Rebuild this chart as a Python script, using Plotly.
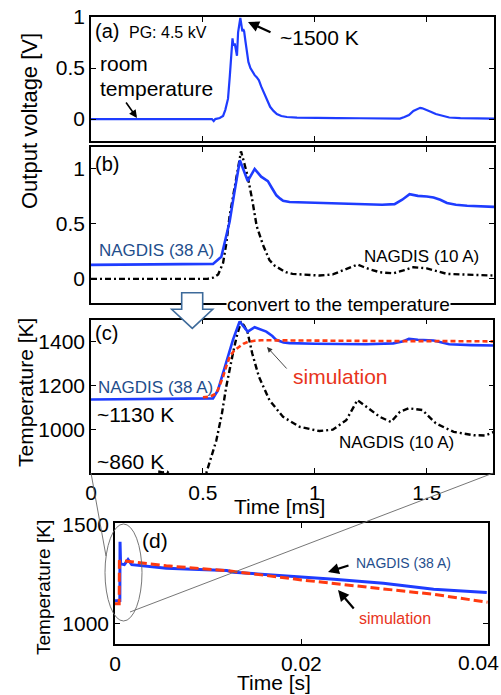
import plotly.graph_objects as go

W, H = 501, 695
FONT = "Liberation Sans, Arial, sans-serif"
BLUE = "#1e3cff"
RED = "#ff3a10"
NAVY = "#1f4e8c"
TXTRED = "#e8341c"

# ---------------- data ----------------
# (a) PG 4.5 kV output voltage
ta = [0, 0.1, 0.2, 0.3, 0.4, 0.5, 0.54, 0.548, 0.555, 0.575, 0.59, 0.60, 0.612, 0.62, 0.627, 0.632,
      0.636, 0.642, 0.647, 0.652, 0.657, 0.662, 0.667, 0.672, 0.676, 0.680, 0.684, 0.690, 0.696, 0.703,
      0.712, 0.722, 0.731, 0.74, 0.75, 0.76, 0.768, 0.78, 0.79, 0.8, 0.815, 0.83, 0.85, 0.875, 0.92, 1.0,
      1.1, 1.2, 1.3, 1.38, 1.40, 1.42, 1.44, 1.46, 1.47, 1.48, 1.5, 1.52, 1.54, 1.57, 1.6, 1.65, 1.7, 1.8]
va = [0, 0, 0, 0, 0, 0, 0, -0.02, 0.0, 0.01, 0.03, 0.09, 0.2, 0.42, 0.65, 0.79,
      0.72, 0.74, 0.68, 0.62, 0.85, 0.95, 0.99, 0.92, 0.86, 0.88, 0.86, 0.76, 0.64, 0.56,
      0.5, 0.46, 0.43, 0.41, 0.38, 0.32, 0.28, 0.21, 0.16, 0.12, 0.08, 0.05, 0.03, 0.02, 0.015, 0.01,
      0.01, 0.008, 0.005, 0.005, 0.02, 0.04, 0.08, 0.105, 0.11, 0.105, 0.09, 0.07, 0.05, 0.03, 0.015, 0.01, 0.008, 0.005]

# (b) NAGDIS 38 A output voltage
tb38 = [0, 0.2, 0.4, 0.545, 0.582, 0.6, 0.619, 0.64, 0.665, 0.70, 0.731, 0.76, 0.79, 0.81, 0.828, 0.845,
        0.858, 0.887, 1.0, 1.1, 1.23, 1.3, 1.356, 1.39, 1.423, 1.46, 1.5, 1.53, 1.56, 1.59, 1.63, 1.68, 1.8]
vb38 = [0.127, 0.13, 0.133, 0.136, 0.20, 0.36, 0.52, 0.78, 1.08, 0.89, 1.0, 0.93, 0.89, 0.82, 0.76, 0.73,
        0.71, 0.70, 0.695, 0.69, 0.68, 0.675, 0.68, 0.72, 0.77, 0.755, 0.75, 0.74, 0.72, 0.69, 0.675, 0.665, 0.655]
# (b) NAGDIS 10 A output voltage
tb10 = [0, 0.2, 0.4, 0.52, 0.545, 0.568, 0.59, 0.605, 0.619, 0.635, 0.649, 0.67, 0.685, 0.70, 0.72, 0.74,
        0.768, 0.797, 0.82, 0.842, 0.87, 0.9, 0.96, 1.02, 1.08, 1.14, 1.19, 1.215, 1.24, 1.29, 1.35, 1.40,
        1.44, 1.5, 1.55, 1.59, 1.65, 1.71, 1.8]
vb10 = [0, 0, 0, 0, 0.01, 0.04, 0.145, 0.33, 0.57, 0.76, 0.93, 1.16, 1.05, 0.93, 0.72, 0.48,
        0.31, 0.17, 0.12, 0.09, 0.06, 0.045, 0.035, 0.03, 0.04, 0.09, 0.13, 0.11, 0.09, 0.06, 0.05, 0.08,
        0.106, 0.095, 0.07, 0.045, 0.04, 0.035, 0.03]

# (c) temperature [K]
tc38 = [0, 0.2, 0.4, 0.545, 0.567, 0.585, 0.604, 0.634, 0.664, 0.70, 0.731, 0.76, 0.783, 0.81, 0.827,
        0.86, 0.887, 1.0, 1.1, 1.23, 1.35, 1.39, 1.42, 1.46, 1.53, 1.57, 1.6, 1.7, 1.8]
Tc38 = [1138, 1140, 1141, 1143, 1180, 1240, 1302, 1408, 1491, 1445, 1465, 1452, 1445, 1425, 1408,
        1396, 1393, 1390, 1389, 1388, 1392, 1400, 1412, 1408, 1405, 1396, 1388, 1384, 1382]
tcsim = [0.5, 0.53, 0.56, 0.575, 0.59, 0.605, 0.62, 0.64, 0.66, 0.68, 0.7, 0.73, 0.76, 0.85, 1.0,
         1.2, 1.4, 1.6, 1.8]
Tcsim = [1148, 1150, 1165, 1200, 1241, 1290, 1332, 1360, 1377, 1390, 1398, 1404, 1406, 1405, 1404,
         1403, 1402, 1402, 1401]
tc10 = [0, 0.1, 0.2, 0.28, 0.30, 0.32, 0.34, 0.36, 0.45, 0.5, 0.516, 0.56, 0.585, 0.604, 0.634, 0.65,
        0.67, 0.685, 0.70, 0.72, 0.75, 0.797, 0.858, 0.932, 1.02, 1.08, 1.14, 1.19, 1.23, 1.29, 1.34,
        1.38, 1.42, 1.48, 1.54, 1.62, 1.71, 1.76, 1.8]
Tc10 = [760, 760, 770, 790, 812, 808, 811, 795, 780, 790, 808, 953, 1075, 1195, 1347, 1420,
        1491, 1470, 1440, 1347, 1241, 1135, 1059, 1014, 995, 1001, 1044, 1135, 1105, 1059, 1036,
        1082, 1098, 1090, 1030, 991, 976, 975, 991]

# (d) long time scale temperature
td38 = [0, 0.0003, 0.00052, 0.00054, 0.0006, 0.0010, 0.0014, 0.0018, 0.003, 0.0055, 0.009, 0.012,
        0.0127, 0.016, 0.0199, 0.0235, 0.0288, 0.0342, 0.0399]
Td38 = [1114, 1114, 1115, 1412, 1300, 1296, 1322, 1296, 1290, 1278, 1272, 1266,
        1258, 1248, 1236, 1222, 1202, 1172, 1155]
tdsim = [0, 0.00045, 0.00047, 0.0008, 0.0015, 0.0055, 0.012, 0.02, 0.0271, 0.0342, 0.04]
Tdsim = [1099, 1099, 1312, 1316, 1312, 1290, 1266, 1219, 1182, 1146, 1106]


# ---------------- helpers ----------------
def px(x):
    return x / W


def py(y):
    return 1 - y / H


fig = go.Figure()

fig.add_trace(go.Scatter(x=ta, y=va, mode="lines", line=dict(color=BLUE, width=2.2),
                         xaxis="x", yaxis="y", showlegend=False))
fig.add_trace(go.Scatter(x=tb10, y=vb10, mode="lines", line=dict(color="black", width=2.4, dash="6px,3px,2px,3px"),
                         xaxis="x2", yaxis="y2", showlegend=False))
fig.add_trace(go.Scatter(x=tb38, y=vb38, mode="lines", line=dict(color=BLUE, width=2.6),
                         xaxis="x2", yaxis="y2", showlegend=False))
fig.add_trace(go.Scatter(x=tc10, y=Tc10, mode="lines", line=dict(color="black", width=2.4, dash="6px,3px,2px,3px"),
                         xaxis="x3", yaxis="y3", showlegend=False))
fig.add_trace(go.Scatter(x=tc38, y=Tc38, mode="lines", line=dict(color=BLUE, width=2.6),
                         xaxis="x3", yaxis="y3", showlegend=False))
fig.add_trace(go.Scatter(x=tcsim, y=Tcsim, mode="lines", line=dict(color=RED, width=2.6, dash="5px,3px"),
                         xaxis="x3", yaxis="y3", showlegend=False))
fig.add_trace(go.Scatter(x=td38, y=Td38, mode="lines", line=dict(color=BLUE, width=3),
                         xaxis="x4", yaxis="y4", showlegend=False))
fig.add_trace(go.Scatter(x=tdsim, y=Tdsim, mode="lines", line=dict(color=RED, width=3, dash="9px,4px"),
                         xaxis="x4", yaxis="y4", showlegend=False))

ax_common = dict(showline=True, linecolor="black", linewidth=1.6, mirror="ticks", ticks="inside",
                 ticklen=5, tickwidth=1, tickcolor="black", showgrid=False, zeroline=False,
                 automargin=False, ticklabeloverflow="allow",
                 tickfont=dict(family=FONT, size=21, color="black"))

# panel boxes (pixels): left, right, top, bottom
A = (91, 494, 17, 141)
B = (91, 494, 147, 303)
C = (91, 493.3, 319.5, 473)
D = (115, 487.7, 523.3, 644)


def dom(box):
    l, r, t, b = box
    return [px(l), px(r)], [py(b), py(t)]


xa, ya = dom(A)
xb, yb = dom(B)
xc, yc = dom(C)
xd, yd = dom(D)

fig.update_layout(
    xaxis=dict(domain=xa, range=[0, 1.8], anchor="y", tickvals=[0, 0.5, 1, 1.5], showticklabels=False, **ax_common),
    yaxis=dict(domain=ya, range=[-0.215, 1.0], anchor="x", tickvals=[0, 0.5, 1], ticktext=["0", "0.5", "1"], **ax_common),
    xaxis2=dict(domain=xb, range=[0, 1.8], anchor="y2", tickvals=[0, 0.5, 1, 1.5], showticklabels=False, **ax_common),
    yaxis2=dict(domain=yb, range=[-0.22, 1.2], anchor="x2", tickvals=[0, 0.5, 1], ticktext=["0", "0.5", "1"], **ax_common),
    xaxis3=dict(domain=xc, range=[0, 1.797], anchor="y3", tickvals=[0, 0.5, 1, 1.5], ticktext=["0", "0.5", "1", "1.5"], **ax_common),
    yaxis3=dict(domain=yc, range=[805, 1500], anchor="x3", tickvals=[1000, 1200, 1400], **ax_common),
    xaxis4=dict(domain=xd, range=[0, 0.04], anchor="y4", tickvals=[0, 0.02, 0.04], ticktext=["0", "0.02", ""], **ax_common),
    yaxis4=dict(domain=yd, range=[895, 1505], anchor="x4", tickvals=[1000, 1500], **ax_common),
    width=W, height=H, autosize=False,
    margin=dict(l=0, r=0, t=0, b=0, pad=0, autoexpand=False),
    paper_bgcolor="white", plot_bgcolor="white",
    font=dict(family=FONT, color="black"),
)

annots = []


def text(s, x, y, size, color="black", xanchor="left", angle=0):
    annots.append(dict(text=s, x=px(x), y=py(y), xref="paper", yref="paper", xanchor=xanchor, yanchor="middle",
                       showarrow=False, font=dict(family=FONT, size=size, color=color), textangle=angle))


def arrow(hx, hy, tx, ty, width=2.0, color="black", size=1.0):
    annots.append(dict(text="", x=px(hx), y=py(hy), xref="paper", yref="paper", ax=tx - hx, ay=ty - hy,
                       axref="pixel", ayref="pixel", showarrow=True, arrowhead=2, arrowsize=size,
                       arrowwidth=width, arrowcolor=color, standoff=0, startstandoff=0))


text("(a)", 93, 31, 20)
text("PG: 4.5 kV", 127, 33, 16)
text("~1500 K", 278, 38, 21)
text("room", 98, 63, 21)
text("temperature", 98, 88, 21)
text("(b)", 93, 164, 20)
text("NAGDIS (38 A)", 97, 250, 17, NAVY)
text("NAGDIS (10 A)", 362, 256, 17)
text("(c)", 93, 333, 20)
text("NAGDIS (38 A)", 96, 387, 17, NAVY)
text("~1130 K", 95, 415, 21)
text("~860 K", 95, 461, 21)
text("simulation", 291, 376, 21, TXTRED)
text("NAGDIS (10 A)", 337, 442, 17)
text("(d)", 140, 540, 21)
text("NAGDIS (38 A)", 354, 563, 14, NAVY)
text("simulation", 357, 618, 16, TXTRED)
text("Time [ms]", 279, 507, 21, xanchor="center")
text("Time [s]", 274, 682, 21, xanchor="center")
text("0.04", 478.5, 662, 21, xanchor="center")
text("Output voltage [V]", 30, 121, 22, xanchor="center", angle=-90)
text("Temperature [K]", 25, 393, 21, xanchor="center", angle=-90)
text("Temperature [K]", 43, 588, 19, xanchor="center", angle=-90)

arrow(248, 22, 272, 33, 2.2)
arrow(137, 118, 125, 101, 1.6)
arrow(267, 347, 288, 370, 0.9, "#333333", 1.2)
arrow(328, 572, 350, 565, 2.2)
arrow(338, 590, 355, 610, 2.2)

fig.update_layout(annotations=annots)

# hollow "convert" arrow, zoom ellipse, and connector lines
pts = [(181.7, 292.7), (181.7, 309.3), (171.7, 309.3), (192.3, 328.3), (212.7, 309.3), (202.7, 309.3),
       (202.7, 292.7)]
path = "M " + " L ".join(f"{px(x):.5f},{py(y):.5f}" for x, y in pts) + " Z"
shapes = [
    dict(type="path", path=path, xref="paper", yref="paper", fillcolor="white",
         line=dict(color="#3d6a9a", width=1.6), layer="above"),
    dict(type="circle", xref="paper", yref="paper", x0=px(105), x1=px(142), y0=py(621), y1=py(524),
         line=dict(color="#666666", width=0.9), layer="above"),
    dict(type="line", xref="paper", yref="paper", x0=px(91), y0=py(473), x1=px(106), y1=py(556),
         line=dict(color="#666666", width=0.9), layer="above"),
    dict(type="line", xref="paper", yref="paper", x0=px(493.3), y0=py(473), x1=px(130), y1=py(612),
         line=dict(color="#666666", width=0.9), layer="above"),
]
fig.update_layout(shapes=shapes)

# convert label drawn with white background over the panel border
fig.add_annotation(text="convert to the temperature", x=px(338), y=py(305), xref="paper", yref="paper",
                   xanchor="center", yanchor="middle", showarrow=False, bgcolor="white", borderpad=0,
                   font=dict(family=FONT, size=19, color="black"))

fig.write_html("out.html", config={"displayModeBar": False},
               post_script="document.body.style.margin='0';document.body.style.overflow='hidden';")
